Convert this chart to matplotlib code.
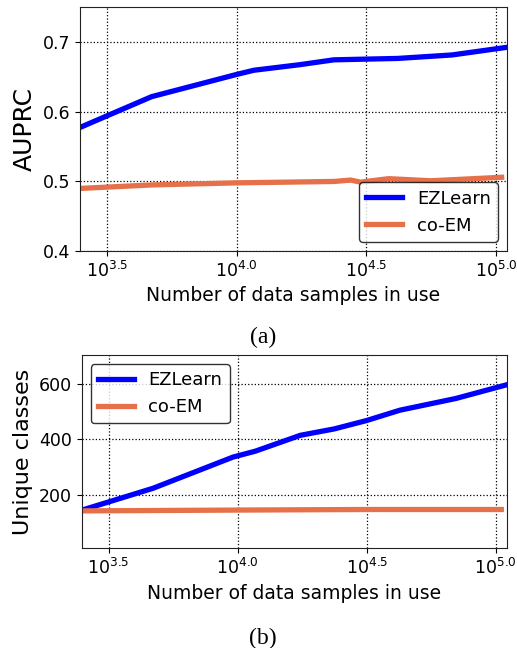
import matplotlib
matplotlib.use("Agg")
import matplotlib.pyplot as plt

# (a) AUPRC vs number of samples
samples_a = [2500, 4700, 10000, 11650, 17500, 23700, 41700, 67600, 110000]
ezlearn_auprc = [0.578, 0.622, 0.654, 0.660, 0.668, 0.675, 0.677, 0.682, 0.693]
samples_coem_a = [2500, 4700, 10000, 23700, 27500, 30000, 38500, 56000, 105000]
coem_auprc = [0.490, 0.495, 0.498, 0.500, 0.502, 0.499, 0.504, 0.501, 0.506]

# (b) unique classes vs number of samples
samples_b = [2500, 4700, 9600, 11700, 17500, 23700, 31600, 42500, 70000, 110000]
ezlearn_classes = [147, 225, 337, 358, 415, 438, 468, 505, 547, 596]
samples_coem_b = [2500, 10000, 31600, 105000]
coem_classes = [144, 147, 149, 149]

xticks = [10 ** 3.5, 10 ** 4.0, 10 ** 4.5, 10 ** 5.0]
xticklabels = [r"$10^{3.5}$", r"$10^{4.0}$", r"$10^{4.5}$", r"$10^{5.0}$"]

blue = "#0000FF"
orange = "#E5704A"

fig = plt.figure(figsize=(5.17, 6.48), dpi=100)
ax1 = fig.add_axes([0.1547, 0.6127, 0.826, 0.3765])
ax2 = fig.add_axes([0.158, 0.1539, 0.822, 0.2983])

def style(ax):
    ax.set_xscale("log")
    ax.set_xlim(10 ** 3.396, 10 ** 5.042)
    ax.set_xticks(xticks)
    ax.set_xticklabels(xticklabels)
    ax.minorticks_off()
    ax.grid(True, linestyle=":", color="black", linewidth=0.9)
    ax.tick_params(labelsize=12.5)
    ax.set_xlabel("Number of data samples in use", fontsize=13.5)
    for s in ax.spines.values():
        s.set_color("#222222")

ax1.plot(samples_a, ezlearn_auprc, color=blue, lw=3.8, label="EZLearn")
ax1.plot(samples_coem_a, coem_auprc, color=orange, lw=3.8, label="co-EM")
style(ax1)
ax1.set_ylim(0.4, 0.751)
ax1.set_yticks([0.4, 0.5, 0.6, 0.7])
ax1.set_ylabel("AUPRC", fontsize=18)
ax1.legend(loc="lower right", fontsize=13, edgecolor="black")

ax2.plot(samples_b, ezlearn_classes, color=blue, lw=3.8, label="EZLearn")
ax2.plot(samples_coem_b, coem_classes, color=orange, lw=3.8, label="co-EM")
style(ax2)
ax2.set_ylim(10, 703)
ax2.set_yticks([200, 400, 600])
ax2.set_ylabel("Unique classes", fontsize=16)
ax2.legend(loc="upper left", fontsize=13, edgecolor="black")

fig.text(0.508, 1 - 337 / 648, "(a)", ha="center", va="center",
         fontsize=17, family="Liberation Serif")
fig.text(0.508, 1 - 638 / 648, "(b)", ha="center", va="center",
         fontsize=17, family="Liberation Serif")

fig.savefig("out.png", dpi=100)
